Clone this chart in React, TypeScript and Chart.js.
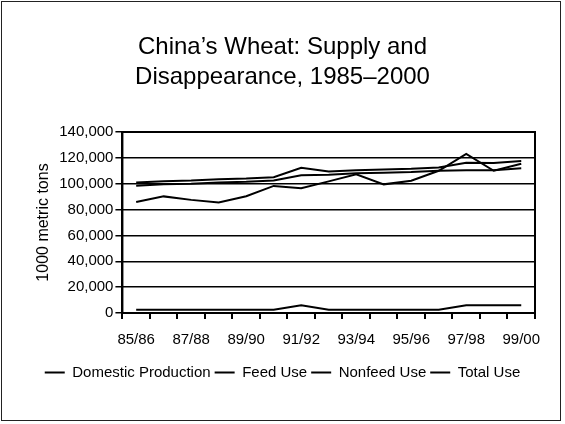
import React, { useEffect, useRef } from "react";
import { Chart, registerables } from "chart.js";

Chart.register(...registerables);

// Marketing years, 1985/86 through 1999/2000
const years = [
  "85/86", "86/87", "87/88", "88/89", "89/90", "90/91", "91/92", "92/93",
  "93/94", "94/95", "95/96", "96/97", "97/98", "98/99", "99/00",
];

// Values in 1000 metric tons
const domesticProduction = [
  85800, 90200, 87500, 85500, 90300, 98300, 96500, 101800,
  107300, 99500, 102300, 110000, 123000, 110000, 115500,
];
const feedUse = [
  2500, 2500, 2500, 2500, 2500, 2500, 6000, 2500,
  2500, 2500, 2500, 2500, 6000, 6000, 6000,
];
const nonfeedUse = [
  98500, 99500, 100000, 101000, 101500, 102500, 106500, 107000,
  108000, 108500, 109000, 110000, 110500, 110500, 112000,
];
const totalUse = [
  101000, 102000, 102500, 103500, 104000, 105000, 112300, 109500,
  110500, 111000, 111500, 112500, 116300, 116000, 117500,
];

const yTicks = [0, 20000, 40000, 60000, 80000, 100000, 120000, 140000];

const FONT = "'Liberation Sans', Arial, Helvetica, sans-serif";

// Outline the plot area so the right edge is framed like the axes
const frame = {
  id: "plotFrame",
  afterDatasetsDraw(chart: any) {
    const { ctx, chartArea } = chart;
    ctx.save();
    ctx.strokeStyle = "#000";
    ctx.lineWidth = 2;
    ctx.strokeRect(chartArea.left, chartArea.top, chartArea.right - chartArea.left, chartArea.bottom - chartArea.top);
    ctx.restore();
  },
};

export default function App() {
  const ref = useRef<HTMLCanvasElement | null>(null);

  useEffect(() => {
    if (!ref.current) return;
    const line = (label: string, data: number[]) => ({
      label,
      data,
      borderColor: "#000",
      backgroundColor: "#000",
      borderWidth: 2,
      pointRadius: 0,
      tension: 0,
    });
    const chart = new Chart(ref.current, {
      type: "line",
      data: {
        labels: years,
        datasets: [
          line("Domestic Production", domesticProduction),
          line("Feed Use", feedUse),
          line("Nonfeed Use", nonfeedUse),
          line("Total Use", totalUse),
        ],
      },
      plugins: [frame],
      options: {
        animation: false,
        responsive: false,
        layout: { padding: { left: 30, right: 30, top: 0, bottom: 34 } },
        plugins: {
          title: {
            display: true,
            text: ["China\u2019s Wheat: Supply and", "Disappearance, 1985\u20132000"],
            color: "#000",
            font: { family: FONT, size: 24, weight: "normal", lineHeight: 1.25 },
            padding: { top: 32, bottom: 40 },
          },
          legend: {
            position: "bottom",
            labels: {
              color: "#000",
              font: { family: FONT, size: 15 },
              boxWidth: 20,
              boxHeight: 2,
              padding: 4,
              generateLabels: (chart: any) =>
                Chart.defaults.plugins.legend.labels
                  .generateLabels(chart)
                  .map((l: any) => ({ ...l, lineWidth: 0 })),
            },
          },
          tooltip: { enabled: false },
        },
        scales: {
          x: {
            offset: true,
            grid: {
              offset: true,
              drawOnChartArea: false,
              drawTicks: true,
              tickLength: 6,
              color: "#000",
              lineWidth: 2,
            },
            border: { color: "#000", width: 2 },
            ticks: {
              autoSkip: false,
              maxRotation: 0,
              color: "#000",
              padding: 12,
              font: { family: FONT, size: 15 },
              callback: (_v: any, i: number) => (i % 2 === 0 ? years[i] : ""),
            },
          },
          y: {
            min: yTicks[0],
            max: yTicks[yTicks.length - 1],
            afterBuildTicks: (axis: any) => {
              axis.ticks = yTicks.map((v) => ({ value: v }));
            },
            grid: { color: "#000", lineWidth: 1.5, tickLength: 7 },
            border: { color: "#000", width: 2 },
            ticks: {
              color: "#000",
              padding: 2,
              font: { family: FONT, size: 15 },
              callback: (v: any) => Number(v).toLocaleString("en-US"),
            },
            title: {
              display: true,
              text: "1000 metric tons",
              color: "#000",
              font: { family: FONT, size: 16 },
              padding: 4,
            },
          },
        },
      },
    });
    return () => chart.destroy();
  }, []);

  return (
    <div style={{ position: "fixed", left: 0, top: 0, width: 565, height: 424, background: "#fff" }}>
      <canvas ref={ref} width={565} height={424} style={{ display: "block" }} />
      <div
        style={{
          position: "absolute",
          left: 1,
          top: 1,
          width: 560,
          height: 420,
          boxSizing: "border-box",
          border: "1px solid #222",
          pointerEvents: "none",
        }}
      />
    </div>
  );
}
